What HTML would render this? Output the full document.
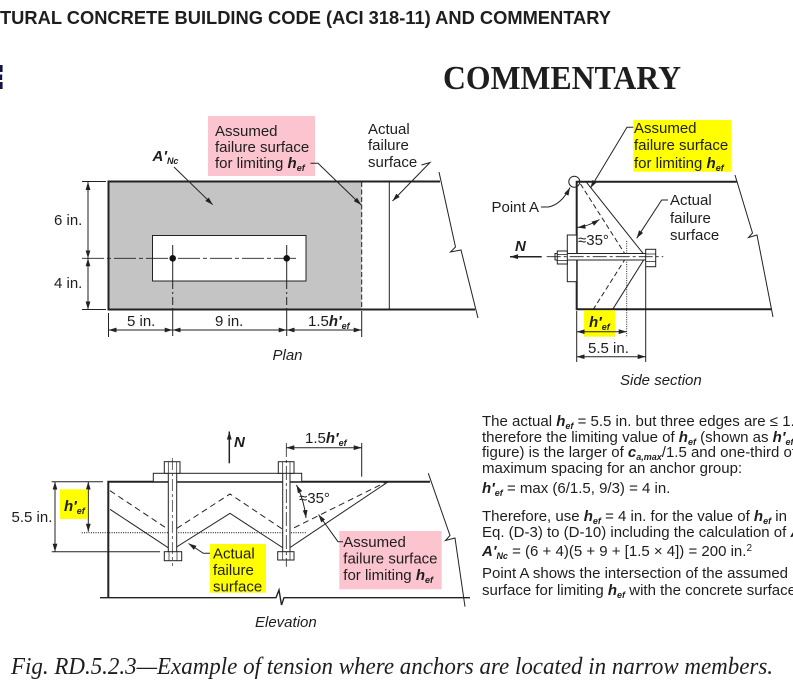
<!DOCTYPE html>
<html><head><meta charset="utf-8"><style>
html,body{margin:0;padding:0;background:#fff;width:793px;height:686px;overflow:hidden}
svg{display:block}
text{font-family:"Liberation Sans",Arial,sans-serif;fill:#1e1e1e}
.serif{font-family:"Liberation Serif","Times New Roman",serif}
.bi{font-weight:bold;font-style:italic}
.it{font-style:italic}
.sub{font-size:9px;font-weight:bold;font-style:italic}
</style></head><body>
<svg width="793" height="686" viewBox="0 0 793 686" xmlns="http://www.w3.org/2000/svg" font-size="15">
<defs>
<marker id="a" viewBox="0 0 10 6" refX="10" refY="3" markerWidth="8" markerHeight="5" markerUnits="userSpaceOnUse" orient="auto-start-reverse"><path d="M0,0L10,3L0,6z" fill="#222"/></marker>
</defs>

<!-- Header -->
<text x="0" y="24" font-weight="bold" font-size="18" textLength="611" lengthAdjust="spacingAndGlyphs">TURAL CONCRETE BUILDING CODE (ACI 318-11) AND COMMENTARY</text>
<path d="M0,65H2.6V72H0z M0,74.5H2.2V80H0z M0,82H2.6V89H0z" fill="#14144a"/>
<text class="serif" x="443" y="89" font-weight="bold" font-size="34" textLength="238" lengthAdjust="spacingAndGlyphs">COMMENTARY</text>

<!-- ================= PLAN ================= -->
<rect x="108.5" y="181.5" width="253.2" height="128" fill="#c4c4c4"/>
<rect x="152.5" y="235.5" width="153.5" height="45.5" fill="#fff" stroke="#222" stroke-width="1"/>
<path d="M107.5,181.5H440 M107.5,309.5H475 M108.5,180.5V310.5" stroke="#222" stroke-width="2" fill="none"/>
<line x1="361.7" y1="182" x2="361.7" y2="309" stroke="#222" stroke-dasharray="5,2.5"/>
<line x1="361.7" y1="311" x2="361.7" y2="337" stroke="#222"/>
<line x1="389.3" y1="182" x2="389.3" y2="309" stroke="#222"/>
<path d="M439,172 L455.5,247 L450.5,252 L461,250 L478,318" fill="none" stroke="#222"/>
<line x1="82" y1="258.3" x2="299" y2="258.3" stroke="#222" stroke-width="0.9" stroke-dasharray="22,3,4,3"/>
<path d="M172.7,245V281 M286.7,245V281 M172.7,310V336 M286.7,310V336" stroke="#222" fill="none"/>
<path d="M172.7,281V310 M286.7,281V310" stroke="#222" stroke-dasharray="8,3,2,3" fill="none"/>
<circle cx="172.7" cy="258.3" r="3.3" fill="#111"/>
<circle cx="286.7" cy="258.3" r="3.3" fill="#111"/>
<!-- vertical dims -->
<path d="M82,181.5H106 M82,309.5H106" stroke="#222"/>
<line x1="88" y1="182" x2="88" y2="258.3" stroke="#222" marker-start="url(#a)" marker-end="url(#a)"/>
<line x1="88" y1="258.3" x2="88" y2="309.5" stroke="#222" marker-start="url(#a)" marker-end="url(#a)"/>
<text x="54" y="225">6 in.</text>
<text x="54" y="288">4 in.</text>
<!-- horizontal dims -->
<line x1="108.5" y1="313" x2="108.5" y2="337" stroke="#222"/>
<line x1="108.5" y1="330" x2="172.7" y2="330" stroke="#222" marker-start="url(#a)" marker-end="url(#a)"/>
<line x1="172.7" y1="330" x2="286.7" y2="330" stroke="#222" marker-start="url(#a)" marker-end="url(#a)"/>
<line x1="286.7" y1="330" x2="361.7" y2="330" stroke="#222" marker-start="url(#a)" marker-end="url(#a)"/>
<text x="127" y="326">5 in.</text>
<text x="215" y="326">9 in.</text>
<text x="308" y="326">1.5<tspan class="bi">h′</tspan><tspan class="sub" dy="3">ef</tspan></text>
<text class="it" x="272.5" y="360">Plan</text>
<!-- A'Nc -->
<text x="152.5" y="161" class="bi">A′<tspan class="sub" dy="3">Nc</tspan></text>
<line x1="174" y1="167" x2="212.7" y2="204.7" stroke="#222" marker-end="url(#a)"/>
<!-- pink label -->
<rect x="208" y="116" width="107" height="60" fill="#fbc4cf"/>
<text x="215" y="136">Assumed</text>
<text x="215" y="152">failure surface</text>
<text x="215" y="168">for limiting <tspan class="bi">h</tspan><tspan class="sub" dy="3">ef</tspan></text>
<path d="M310.5,163.3H318 L361.2,205" fill="none" stroke="#222" marker-end="url(#a)"/>
<!-- actual label -->
<text x="368" y="134">Actual</text>
<text x="368" y="150">failure</text>
<text x="368" y="167">surface</text>
<path d="M421.5,165 L430,162.5 L392.5,201" fill="none" stroke="#222" marker-end="url(#a)"/>

<!-- ================= SIDE SECTION ================= -->
<path d="M576.7,180.7V310.3 M575.7,181.7H736.7 M575.7,309.3H771.7" stroke="#222" stroke-width="2" fill="none"/>
<path d="M735,175 L752.5,233 L748.5,237.5 L757,235 L773,317" fill="none" stroke="#222"/>
<circle cx="574.3" cy="181.7" r="5.5" fill="none" stroke="#222"/>
<path d="M586,181.7 L645.7,256.7 L612.7,309.3" fill="none" stroke="#222"/>
<path d="M580.5,184 L626.7,256.7 L593.3,309.3" fill="none" stroke="#222" stroke-dasharray="5,3"/>
<line x1="626.7" y1="241" x2="626.7" y2="337" stroke="#222" stroke-dasharray="1,1.3"/>
<rect x="567.3" y="235" width="9.4" height="46.7" fill="#fff" stroke="#222"/>
<rect x="555" y="253.5" width="91" height="6.5" fill="#fff" stroke="#222"/>
<rect x="557.3" y="251" width="10" height="13" fill="#fff" stroke="#222"/>
<path d="M557.3,254.5H567.3 M557.3,260.5H567.3" stroke="#222" stroke-width="0.7"/>
<rect x="645.7" y="249.3" width="10" height="17.4" fill="#fff" stroke="#222"/>
<path d="M645.7,254H655.7 M645.7,261.5H655.7" stroke="#222" stroke-width="0.7"/>
<line x1="546.7" y1="256.7" x2="663.3" y2="256.7" stroke="#222" stroke-width="0.8" stroke-dasharray="14,3,3,3"/>
<line x1="541.7" y1="256.7" x2="510" y2="256.7" stroke="#222" stroke-width="1.5" marker-end="url(#a)"/>
<text x="515" y="251" class="bi">N</text>
<path d="M577.5,227.5 Q589,226 599.5,219.5" fill="none" stroke="#222" marker-start="url(#a)" marker-end="url(#a)"/>
<text x="578" y="245">≈35°</text>
<rect x="633.3" y="120" width="98.4" height="51.7" fill="#ffff00"/>
<text x="634" y="133">Assumed</text>
<text x="634" y="150">failure surface</text>
<text x="634" y="168">for limiting <tspan class="bi">h</tspan><tspan class="sub" dy="3">ef</tspan></text>
<path d="M633.3,127.3H627 L590.5,188" fill="none" stroke="#222" marker-end="url(#a)"/>
<text x="491.5" y="212">Point A</text>
<path d="M541,207H548 Q561,205 570,187.5" fill="none" stroke="#222" marker-end="url(#a)"/>
<text x="670" y="205">Actual</text>
<text x="670" y="223">failure</text>
<text x="670" y="240">surface</text>
<path d="M668,200H661.7 L636.7,238.3" fill="none" stroke="#222" marker-end="url(#a)"/>
<rect x="584" y="310.3" width="31" height="26.4" fill="#ffff00"/>
<text x="589" y="327" class="bi">h′<tspan class="sub" dy="3">ef</tspan></text>
<path d="M576.7,311V362 M645.7,267V362" stroke="#222"/>
<line x1="576.7" y1="331.7" x2="626.7" y2="331.7" stroke="#222" marker-start="url(#a)" marker-end="url(#a)"/>
<line x1="576.7" y1="356.7" x2="645.7" y2="356.7" stroke="#222" marker-start="url(#a)" marker-end="url(#a)"/>
<text x="588" y="353">5.5 in.</text>
<text class="it" x="620" y="385">Side section</text>

<!-- ================= ELEVATION ================= -->
<path d="M107.3,481.7H430 M108.3,480.7V597.5" stroke="#222" stroke-width="2" fill="none"/>
<path d="M100,597.7H276 L279,590 L281.5,605 L284,597.7 H470" fill="none" stroke="#222" stroke-width="1.4"/>
<path d="M428.3,473.3 L450,535.5 L445.5,540.5 L455,538 L465,606.7" fill="none" stroke="#222"/>
<path d="M110,490.7 L171.7,531.7 L230,494 L286.3,531.7 L386.7,481.7" fill="none" stroke="#222" stroke-dasharray="6,4"/>
<path d="M110,509.3 L171.7,550 L230,513.3 L286.3,550 L388.3,481.7" fill="none" stroke="#222"/>
<line x1="81.7" y1="532.7" x2="306.7" y2="532.7" stroke="#222" stroke-width="1.2" stroke-dasharray="1,1.3"/>
<rect x="153.3" y="473.3" width="148.4" height="8.4" fill="#fff" stroke="#222"/>
<rect x="168.3" y="464" width="8.4" height="88" fill="#fff" stroke="#222"/>
<rect x="164.3" y="461.7" width="15.7" height="11.6" fill="#fff" stroke="#222"/>
<path d="M168.3,461.7V473.3 M176.7,461.7V473.3" stroke="#222" stroke-width="0.7"/>
<rect x="164.3" y="551.7" width="17.4" height="9" fill="#fff" stroke="#222"/>
<path d="M169,551.7V560.7 M177,551.7V560.7" stroke="#222" stroke-width="0.7"/>
<line x1="172.3" y1="458" x2="172.3" y2="566" stroke="#222" stroke-width="0.7" stroke-dasharray="12,3,3,3"/>
<rect x="282.7" y="464" width="7.3" height="88" fill="#fff" stroke="#222"/>
<rect x="278.3" y="461.7" width="15.7" height="11.6" fill="#fff" stroke="#222"/>
<path d="M282.7,461.7V473.3 M290,461.7V473.3" stroke="#222" stroke-width="0.7"/>
<rect x="277.7" y="551.7" width="16.3" height="8.3" fill="#fff" stroke="#222"/>
<path d="M282.7,551.7V560 M290,551.7V560" stroke="#222" stroke-width="0.7"/>
<line x1="286.3" y1="443" x2="286.3" y2="566.7" stroke="#222" stroke-width="0.8" stroke-dasharray="14,3,3,3"/>
<line x1="229.3" y1="463.3" x2="229.3" y2="431.5" stroke="#222" stroke-width="1.5" marker-end="url(#a)"/>
<text x="234" y="447" class="bi">N</text>
<line x1="361.7" y1="443" x2="361.7" y2="476.7" stroke="#222"/>
<line x1="286.3" y1="447.7" x2="361.7" y2="447.7" stroke="#222" marker-start="url(#a)" marker-end="url(#a)"/>
<text x="305" y="443">1.5<tspan class="bi">h′</tspan><tspan class="sub" dy="3">ef</tspan></text>
<path d="M296.5,485 Q304,500 306,518" fill="none" stroke="#222" marker-start="url(#a)" marker-end="url(#a)"/>
<text x="299" y="503">≈35°</text>
<path d="M51.7,481.7H103 M51.7,551.7H160" stroke="#222"/>
<line x1="55" y1="481.7" x2="55" y2="551.7" stroke="#222" marker-start="url(#a)" marker-end="url(#a)"/>
<text x="11.5" y="522">5.5 in.</text>
<line x1="88.3" y1="481.7" x2="88.3" y2="531.7" stroke="#222" marker-start="url(#a)" marker-end="url(#a)"/>
<rect x="60" y="489.3" width="27.7" height="29.7" fill="#ffff00"/>
<text x="64" y="511" class="bi">h′<tspan class="sub" dy="3">ef</tspan></text>
<rect x="339.3" y="531" width="102.4" height="58.3" fill="#fbc4cf"/>
<text x="343.3" y="547">Assumed</text>
<text x="343.3" y="563.5">failure surface</text>
<text x="343.3" y="580">for limiting <tspan class="bi">h</tspan><tspan class="sub" dy="3">ef</tspan></text>
<path d="M343,541.7H338 L318.5,514.5" fill="none" stroke="#222" marker-end="url(#a)"/>
<rect x="210" y="544" width="56" height="48.7" fill="#ffff00"/>
<text x="213" y="558.5">Actual</text>
<text x="213" y="575">failure</text>
<text x="213" y="591.5">surface</text>
<path d="M210,553.3H203.3 L188.5,543.5" fill="none" stroke="#222" marker-end="url(#a)"/>
<text class="it" x="255" y="627">Elevation</text>

<!-- ================= TEXT BLOCK ================= -->
<text x="482" y="426">The actual <tspan class="bi">h</tspan><tspan class="sub" dy="3">ef</tspan><tspan dy="-3"> = 5.5 in. but three edges are ≤ 1.5</tspan><tspan class="bi">h</tspan><tspan class="sub" dy="3">ef</tspan></text>
<text x="482" y="442">therefore the limiting value of <tspan class="bi">h</tspan><tspan class="sub" dy="3">ef</tspan><tspan dy="-3"> (shown as </tspan><tspan class="bi">h′</tspan><tspan class="sub" dy="3">ef</tspan><tspan dy="-3"> in the</tspan></text>
<text x="482" y="457">figure) is the larger of <tspan class="bi">c</tspan><tspan class="sub" dy="3">a,max</tspan><tspan dy="-3">/1.5 and one-third of the</tspan></text>
<text x="482" y="473">maximum spacing for an anchor group:</text>
<text x="482" y="493"><tspan class="bi">h′</tspan><tspan class="sub" dy="3">ef</tspan><tspan dy="-3"> = max (6/1.5, 9/3) = 4 in.</tspan></text>
<text x="482" y="521">Therefore, use <tspan class="bi">h</tspan><tspan class="sub" dy="3">ef</tspan><tspan dy="-3"> = 4 in. for the value of </tspan><tspan class="bi">h</tspan><tspan class="sub" dy="3">ef</tspan><tspan dy="-3"> in</tspan></text>
<text x="482" y="537">Eq. (D-3) to (D-10) including the calculation of <tspan class="bi">A</tspan></text>
<text x="482" y="556"><tspan class="bi">A′</tspan><tspan class="sub" dy="3">Nc</tspan><tspan dy="-3"> = (6 + 4)(5 + 9 + [1.5 × 4]) = 200 in.</tspan><tspan font-size="10" dy="-5">2</tspan></text>
<text x="482" y="578">Point A shows the intersection of the assumed</text>
<text x="482" y="595">surface for limiting <tspan class="bi">h</tspan><tspan class="sub" dy="3">ef</tspan><tspan dy="-3"> with the concrete surface.</tspan></text>

<!-- caption -->
<text class="serif it" x="11" y="674" font-size="24" textLength="762" lengthAdjust="spacingAndGlyphs">Fig. RD.5.2.3—Example of tension where anchors are located in narrow members.</text>
</svg>
</body></html>
